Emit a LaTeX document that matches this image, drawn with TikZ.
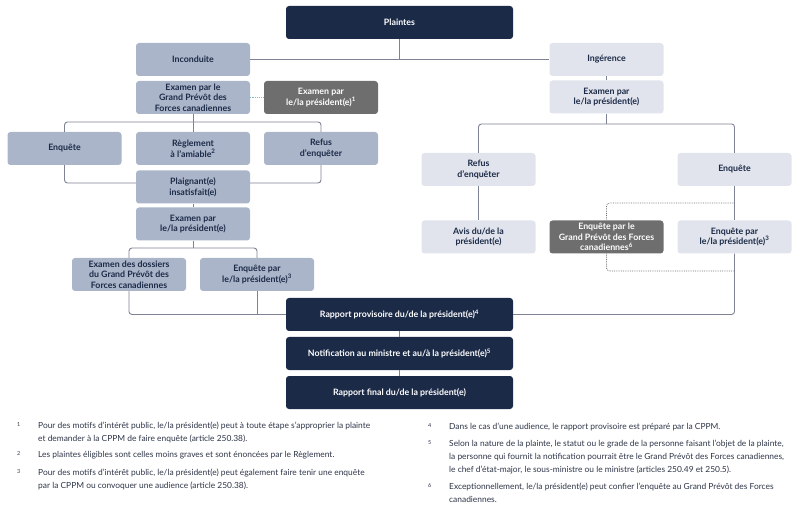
\documentclass[tikz,border=0pt]{standalone}
\usepackage{fontspec}
\setmainfont{Lato}
\usetikzlibrary{positioning, calc}

\definecolor{navy}{HTML}{1B2A47}
\definecolor{lightblue}{HTML}{ABB5C9}
\definecolor{lightgrey}{HTML}{E1E4EC}
\definecolor{darkgrey}{HTML}{6E6E6E}
\definecolor{linegrey}{HTML}{7D8394}
\definecolor{dotgrey}{HTML}{707070}
\definecolor{dotteal}{HTML}{7FBCCB}
\definecolor{fngrey}{HTML}{2E3548}

\newcommand{\boxfont}{\fontsize{8.8}{10.6}\selectfont\bfseries}
\newcommand{\fnote}[5]{%
  % #1 = x, #2 = y (haut), #3 = nom, #4 = numero, #5 = texte
  \node[fnnum] (#3num) at (#1,#2) {#4};
  \node[fntext] (#3) at ($(#1,#2)+(21,0)$) {#5};
}

\tikzset{
  box/.style={rounded corners=3pt, minimum width=114pt, minimum height=33pt,
    align=center, inner sep=1pt, font=\boxfont, text=navy},
  inconduite/.style={box, fill=lightblue},
  ingerence/.style={box, fill=lightgrey},
  darkbox/.style={box, fill=darkgrey, text=white},
  navybox/.style={box, fill=navy, text=white, minimum width=227pt},
  link/.style={draw=linegrey, line width=0.9pt, rounded corners=3pt},
  dotlink/.style={draw=dotgrey, line width=0.8pt, densely dotted, rounded corners=3pt},
  tealink/.style={draw=dotteal, line width=1.2pt, densely dotted},
  fntext/.style={anchor=north west, inner sep=0pt, align=left, text=fngrey,
    font=\fontsize{8.4}{13}\selectfont},
  fnnum/.style={anchor=north west, inner sep=0pt, text=fngrey,
    font=\fontsize{5.5}{6}\selectfont},
}

\begin{document}
\begin{tikzpicture}[x=1pt, y=-1pt, >=latex]
    \useasboundingbox (0,0) rectangle (800,526);

    \node[navybox] (plaintes) at (399.5,22.5) {Plaintes};

    % Inconduite
    \node[inconduite] (inconduite) at (193,59.5) {Inconduite};
    \node[inconduite] (examGP) at (193,97.5) {Examen par le\\Grand Prévôt des\\Forces canadiennes};
    \node[darkbox] (examPresA) at (321,97.5) {Examen par\\le/la président(e)\textsuperscript{1}};
    \node[inconduite] (enqA) at (64.5,148.5) {Enquête};
    \node[inconduite] (reglement) at (193,148.5) {Règlement\\à l’amiable\textsuperscript{2}};
    \node[inconduite] (refusA) at (321,148.5) {Refus\\d’enquêter};
    \node[inconduite] (plaignant) at (193,187) {Plaignant(e)\\insatisfait(e)};
    \node[inconduite] (examPresB) at (193,224) {Examen par\\le/la président(e)};
    \node[inconduite] (dossiers) at (129,274.5) {Examen des dossiers\\du Grand Prévôt des\\Forces canadiennes};
    \node[inconduite] (enqPresA) at (257,274.5) {Enquête par\\le/la président(e)\textsuperscript{3}};

    % Ingérence
    \node[ingerence] (ingerence) at (606.5,59.5) {Ingérence};
    \node[ingerence] (examPresC) at (606.5,97) {Examen par\\le/la président(e)};
    \node[ingerence] (refusB) at (478.5,169.5) {Refus\\d’enquêter};
    \node[ingerence] (enqB) at (734.5,169.5) {Enquête};
    \node[ingerence] (avis) at (478.5,237) {Avis du/de la\\président(e)};
    \node[darkbox] (enqGP) at (606.5,237) {Enquête par le\\Grand Prévôt des Forces\\canadiennes\textsuperscript{6}};
    \node[ingerence] (enqPresB) at (734.5,237) {Enquête par\\le/la président(e)\textsuperscript{3}};

    \node[navybox] (rapportP) at (399.5,314.5) {Rapport provisoire du/de la président(e)\textsuperscript{4}};
    \node[navybox] (notif) at (399.5,353.5) {Notification au ministre et au/à la président(e)\textsuperscript{5}};
    \node[navybox] (final) at (399.5,392.5) {Rapport final du/de la président(e)};

    \coordinate (splitA) at (193,122);
    \coordinate (joinA) at (193,183);
    \coordinate (splitB) at (193,248);
    \coordinate (splitC) at (606.5,124);

    \draw[link] (plaintes.south) -- (plaintes.south |- inconduite.east);
    \draw[link] (inconduite.east) -- (inconduite.east -| ingerence.west);
    \draw[tealink] (examGP.east) -- (examPresA.west);

    \draw[link] (enqA.north) |- (splitA) -| (refusA.north);
    \draw[link] (examGP.south) -- (reglement.north);
    \draw[link] (enqA.south) |- (plaignant.west |- joinA);
    \draw[link] (refusA.south) |- (plaignant.east |- joinA);
    \draw[link] (plaignant.south) -- (examPresB.north);
    \draw[link] (dossiers.north) |- (splitB) -| (enqPresA.north);
    \draw[link] (examPresB.south) -- (splitB);
    \draw[link] (dossiers.south) |- (rapportP.west);
    \draw[link] (enqPresA.south) -- (enqPresA.south |- rapportP.west);

    \draw[link] (ingerence.south) -- (examPresC.north);
    \draw[link] (refusB.north) |- (splitC) -| (enqB.north);
    \draw[link] (examPresC.south) -- (splitC);
    \draw[link] (refusB.south) -- (avis.north);
    \draw[link] (enqB.south) -- (enqPresB.north);
    \draw[dotlink] (enqB.south |- 0,203) -| (enqGP.north);
    \draw[dotlink] (enqGP.south) |- (enqPresB.south |- 0,271);
    \draw[link] (enqPresB.south) |- (rapportP.east);

    \draw[link] (rapportP.south) -- (notif.north);
    \draw[link] (notif.south) -- (final.north);

    % notes
    \fnote{17}{422}{fnA}{1}{Pour des motifs d’intérêt public, le/la président(e) peut à toute étape s’approprier la plainte\\et demander à la CPPM de faire enquête (article 250.38).}
    \fnote{17}{451}{fnB}{2}{Les plaintes éligibles sont celles moins graves et sont énoncées par le Règlement.}
    \fnote{17}{469}{fnC}{3}{Pour des motifs d’intérêt public, le/la président(e) peut également faire tenir une enquête\\par la CPPM ou convoquer une audience (article 250.38).}
    \fnote{428}{423}{fnD}{4}{Dans le cas d’une audience, le rapport provisoire est préparé par la CPPM.}
    \fnote{428}{440}{fnE}{5}{Selon la nature de la plainte, le statut ou le grade de la personne faisant l’objet de la plainte,\\la personne qui fournit la notification pourrait être le Grand Prévôt des Forces canadiennes,\\le chef d’état-major, le sous-ministre ou le ministre (articles 250.49 et 250.5).}
    \fnote{428}{483}{fnF}{6}{Exceptionnellement, le/la président(e) peut confier l’enquête au Grand Prévôt des Forces\\canadiennes.}

\end{tikzpicture}
\end{document}
